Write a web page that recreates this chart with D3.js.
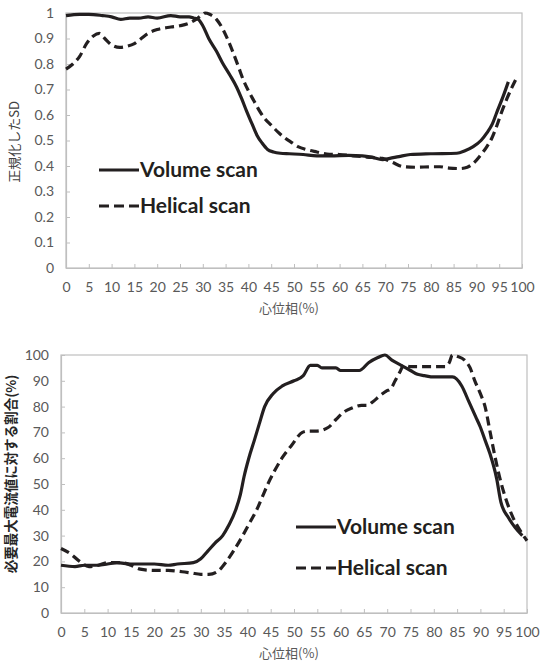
<!DOCTYPE html>
<html><head><meta charset="utf-8">
<script src="https://cdn.jsdelivr.net/npm/d3@7"></script>
<style>body{margin:0;background:#fff}</style>
</head><body>
<svg id="c" width="545" height="662"></svg>
<script>
// ---- data ----
const phaseTicks = [0,5,10,15,20,25,30,35,40,45,50,55,60,65,70,75,80,85,90,95,100];
const sdTicks = [0,0.1,0.2,0.3,0.4,0.5,0.6,0.7,0.8,0.9,1];
const pctTicks = [0,10,20,30,40,50,60,70,80,90,100];
const seriesNames = ["Volume scan","Helical scan"];

// Top chart: normalized SD
const sdVolumeX = [0,3,5,8,10,12,14,16,18,20,23,25,27,28,29,30,31.3,33,34.3,36,37.4,38.5,39.6,40.8,41.9,43,44.2,45.5,47,49,52,55,58,62,65,67,69.4,71,73,75.5,80,85.7,87.5,89.3,91,92.3,93.5,94.4,95.8,97];
const sdVolumeY = [0.99,0.995,0.995,0.99,0.985,0.975,0.98,0.98,0.985,0.98,0.99,0.985,0.985,0.98,0.975,0.95,0.9,0.85,0.805,0.755,0.71,0.665,0.615,0.565,0.52,0.49,0.465,0.455,0.45,0.448,0.445,0.44,0.44,0.442,0.44,0.435,0.425,0.43,0.437,0.445,0.448,0.45,0.46,0.476,0.5,0.53,0.565,0.607,0.67,0.73];
const sdHelicalX = [0,1.5,3,4.5,6,7.3,8.5,10,11.8,13.5,15,16.5,18,20,23,25,27,28.5,30,30.5,31.5,33,34.3,35.5,36.6,37.8,38.9,40,41.2,42.3,43.5,45,46.5,48,49.5,51,52.6,55,57.2,60,63,66,69.4,71.5,74,77,80,82,84,86.4,88,89.3,90.8,92.3,93.4,94.4,95.5,96.6,97.7,98.8];
const sdHelicalY = [0.78,0.8,0.83,0.88,0.91,0.92,0.9,0.875,0.865,0.87,0.88,0.9,0.92,0.935,0.945,0.95,0.96,0.975,0.995,1.0,0.995,0.975,0.94,0.895,0.847,0.79,0.737,0.695,0.656,0.62,0.588,0.56,0.533,0.51,0.492,0.475,0.465,0.455,0.447,0.445,0.44,0.435,0.43,0.415,0.397,0.395,0.397,0.397,0.392,0.39,0.395,0.41,0.44,0.476,0.51,0.554,0.61,0.66,0.705,0.745];

// Bottom chart: ratio to required maximum current (%)
const pctVolumeX = [0,3,5,8,10,12,15,18,20,23,25,28.4,30,31.5,33,34.7,36,37.5,38.5,39.3,40.3,41.5,42.5,43.7,45.5,47.5,50,52,53.5,55,56,59,60,64,66,68,69.5,71,73,75,76.5,78,80,84,86,87.5,89,90,91,92,93.5,94.4,96,97.5,99];
const pctVolumeY = [18.5,18,18.5,18.5,19,19.5,19,19,19,18.5,19,19.5,21,24,27,30,34,40,46,53,60,67,73,80,85,88,90,92,96,96,95,95,94,94,97,99,100,98,96,94,92.5,92,91.5,91.5,88,82,76,72,67,62,52,43,37,33,30];
const pctHelicalX = [0,2,4,6,8,10,13,15,17,20,23,26,28,30,31.7,33.5,35.5,37,39,40.5,42,43.2,44.4,45.8,47.4,49.5,51.8,53,54.7,57.4,59,60.8,62.5,64.5,65.7,67,68.3,69.8,70.8,71.7,72.6,73.6,75,78,80,82.5,83.3,84,85,86.6,87.8,88.8,90,91,92.1,93.2,94.5,95.5,97,98.5,100];
const pctHelicalY = [25,23,20,18,18.5,19.5,19.5,18.5,17,16.5,16.5,16,15.5,15,15,16,20,24,30,35,40,45,50,55,60,65,70,70.5,70.5,72,75,78,79.5,80.5,80.5,82,84,86,87,90,93,96,95.5,95.5,95.5,95.5,97,100,99.5,98,95,90,85,80,70,60,50,44,37,32,28];

const svg = d3.select("#c");
const axisGray = "#bfbfbf", textGray = "#595959", lineCol = "#231f20";

function drawChart(o) {
  const x = d3.scaleLinear().domain([0,100]).range([o.left, o.right]);
  const y = d3.scaleLinear().domain(o.ydom).range([o.bottom, o.top]);
  const g = svg.append("g");
  // border
  g.append("rect").attr("x", o.left).attr("y", o.top)
    .attr("width", o.right - o.left).attr("height", o.bottom - o.top)
    .attr("fill", "none").attr("stroke", axisGray).attr("stroke-width", 1.2);
  // x axis
  const xa = g.append("g").attr("transform", `translate(0,${o.bottom})`)
    .call(d3.axisBottom(x).tickValues(phaseTicks).tickSizeInner(-4).tickSizeOuter(0).tickPadding(14));
  xa.select(".domain").attr("stroke", axisGray).attr("stroke-width", 1.2);
  xa.selectAll(".tick line").attr("stroke", axisGray);
  xa.selectAll("text").attr("fill", textGray).attr("font-family", "Lato, 'Liberation Sans', sans-serif").attr("font-size", 14);
  // y axis
  const ya = g.append("g").attr("transform", `translate(${o.left},0)`)
    .call(d3.axisLeft(y).tickValues(o.yticks).tickSizeInner(-4).tickSizeOuter(0).tickPadding(12).tickFormat(o.yfmt));
  ya.select(".domain").attr("stroke", axisGray).attr("stroke-width", 1.2);
  ya.selectAll(".tick line").attr("stroke", axisGray);
  ya.selectAll("text").attr("fill", textGray).attr("font-family", "Lato, 'Liberation Sans', sans-serif").attr("font-size", 14);
  // titles
  g.append("text").attr("x", (o.left + o.right) / 2 - 5).attr("y", o.bottom + 45)
    .attr("text-anchor", "middle").attr("fill", textGray)
    .attr("font-family", "'Noto Sans CJK JP', sans-serif").attr("font-size", 13).text("心位相(%)");
  g.append("text").attr("transform", `translate(${o.ytx},${o.yty}) rotate(-90)`)
    .attr("text-anchor", "middle").attr("fill", o.ytColor).attr("font-weight", o.ytWeight)
    .attr("font-family", "'Noto Sans CJK JP', sans-serif").attr("font-size", o.ytSize).text(o.ytitle);
  // lines
  const line = d3.line().x(d => x(d[0])).y(d => y(d[1])).curve(d3.curveMonotoneX);
  o.series.forEach((s, i) => {
    g.append("path").datum(d3.zip(s.xs, s.ys)).attr("d", line)
      .attr("fill", "none").attr("stroke", lineCol).attr("stroke-width", 3.2)
      .attr("stroke-linejoin", "round")
      .attr("stroke-dasharray", i === 1 ? "9,5" : null);
  });
  // legend
  seriesNames.forEach((name, i) => {
    const ly = o.legY + i * o.legGap;
    g.append("line").attr("x1", o.legX).attr("x2", o.legX + 40).attr("y1", ly).attr("y2", ly)
      .attr("stroke", lineCol).attr("stroke-width", 3.2)
      .attr("stroke-dasharray", i === 1 ? "10,5" : null);
    g.append("text").attr("x", o.legX + 41).attr("y", ly).attr("dy", "0.35em")
      .attr("fill", lineCol).attr("font-weight", "bold")
      .attr("font-family", "Lato, 'Liberation Sans', sans-serif").attr("font-size", 21).text(name);
  });
}

drawChart({
  left: 66, right: 522, top: 13, bottom: 268, ydom: [0,1], yticks: sdTicks, yfmt: d3.format("~g"),
  ytitle: "正規化したSD", ytx: 19, yty: 142, ytColor: "#404040", ytWeight: "normal", ytSize: 13,
  series: [{xs: sdVolumeX, ys: sdVolumeY}, {xs: sdHelicalX, ys: sdHelicalY}],
  legX: 99, legY: 170, legGap: 36
});
drawChart({
  left: 61, right: 527, top: 355, bottom: 613, ydom: [0,100], yticks: pctTicks, yfmt: d3.format("d"),
  ytitle: "必要最大電流値に対する割合(%)", ytx: 16, yty: 474, ytColor: "#262626", ytWeight: "bold", ytSize: 13.5,
  series: [{xs: pctVolumeX, ys: pctVolumeY}, {xs: pctHelicalX, ys: pctHelicalY}],
  legX: 296, legY: 527, legGap: 41
});
</script>
</body></html>
